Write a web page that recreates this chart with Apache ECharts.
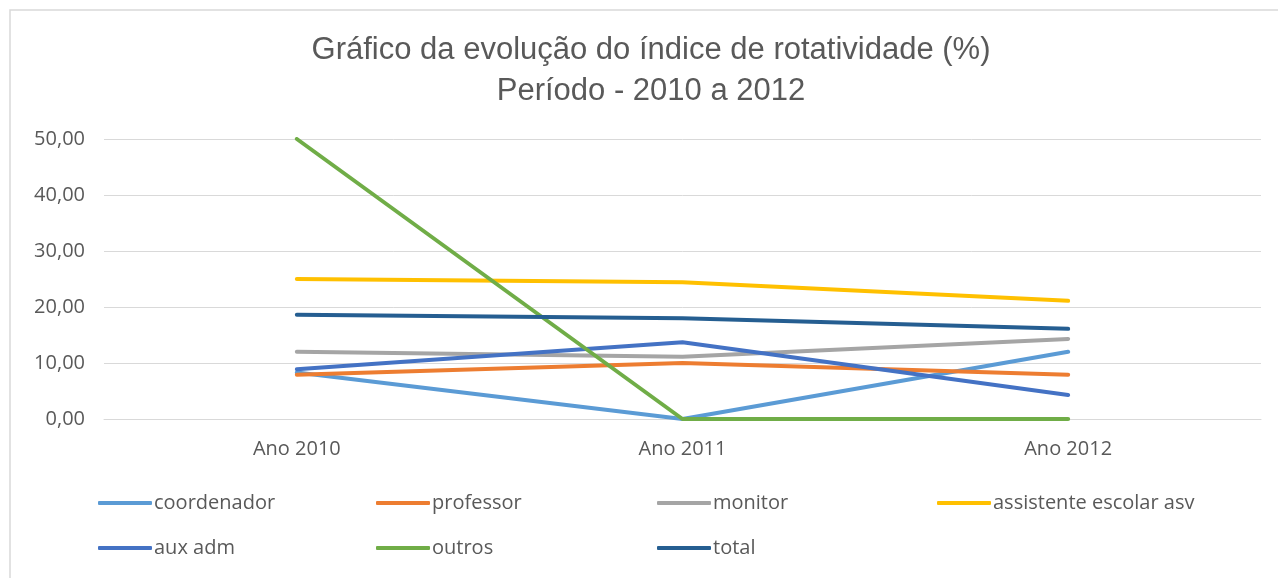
<!DOCTYPE html>
<html>
<head>
<meta charset="utf-8">
<script src="https://cdn.jsdelivr.net/npm/echarts@6/dist/echarts.min.js"></script>
<style>
  html, body { margin: 0; padding: 0; background: #ffffff; }
  #chart { width: 1278px; height: 578px; }
</style>
</head>
<body>
<div id="chart"></div>
<script>
const categories = ['Ano 2010', 'Ano 2011', 'Ano 2012'];
const seriesNames = ['coordenador', 'professor', 'monitor', 'assistente escolar asv', 'aux adm', 'outros', 'total'];
const coordenador = [8.3, 0.0, 12.0];
const professor = [7.9, 10.0, 7.9];
const monitor = [12.0, 11.1, 14.3];
const assistente = [25.0, 24.4, 21.1];
const auxAdm = [8.9, 13.7, 4.3];
const outros = [50.0, 0.0, 0.0];
const total = [18.6, 18.0, 16.1];
const yTicks = [0, 10, 20, 30, 40, 50];
const titleLines = ['Gráfico da evolução do índice de rotatividade (%)', 'Período - 2010 a 2012'];

const values = [coordenador, professor, monitor, assistente, auxAdm, outros, total];
const colors = ['#5B9BD5', '#ED7D31', '#A5A5A5', '#FFC000', '#4472C4', '#70AD47', '#255E91'];
const legendPos = [
  [98, 493], [376, 493], [657, 493], [937, 493],
  [98, 538], [376, 538], [657, 538]
];
const titleTops = [35, 76];

const labelFont = '"Open Sans", "Liberation Sans", sans-serif';

const chart = echarts.init(document.getElementById('chart'), null, { renderer: 'canvas' });

const option = {
  backgroundColor: '#ffffff',
  animation: false,
  title: titleLines.map((t, i) => ({
    text: t,
    left: 651,
    textAlign: 'center',
    top: titleTops[i],
    padding: 0,
    textStyle: {
      fontFamily: '"Liberation Sans", Arial, sans-serif',
      fontSize: 31,
      fontWeight: 'normal',
      color: '#595959'
    }
  })),
  graphic: [{
    type: 'rect',
    shape: { x: 10, y: 10, width: 1300, height: 600 },
    style: { fill: 'none', stroke: '#d9d9d9', lineWidth: 1.5 },
    silent: true,
    z: -10
  }],
  legend: seriesNames.map((name, i) => ({
    data: [name],
    left: legendPos[i][0],
    top: legendPos[i][1],
    padding: 0,
    icon: 'roundRect',
    itemWidth: 54,
    itemHeight: 4,
    textStyle: {
      fontFamily: labelFont,
      fontSize: 20,
      color: '#595959',
      padding: [0, 0, 0, -3]
    }
  })),
  grid: {
    left: 104,
    right: 17,
    top: 139,
    bottom: 159,
    containLabel: false
  },
  xAxis: {
    type: 'category',
    data: categories,
    boundaryGap: true,
    axisTick: { show: false },
    axisLine: { show: true, lineStyle: { color: '#d9d9d9', width: 1 } },
    axisLabel: {
      margin: 20,
      fontFamily: labelFont,
      fontSize: 20,
      color: '#595959'
    }
  },
  yAxis: {
    type: 'value',
    min: yTicks[0],
    max: yTicks[yTicks.length - 1],
    interval: 10,
    axisLine: { show: false },
    axisTick: { show: false },
    splitLine: { show: true, lineStyle: { color: '#d9d9d9', width: 1 } },
    axisLabel: {
      margin: 19,
      fontFamily: labelFont,
      fontSize: 20,
      color: '#595959',
      formatter: v => v.toFixed(2).replace('.', ',')
    }
  },
  series: seriesNames.map((name, i) => ({
    name: name,
    type: 'line',
    data: values[i],
    symbol: 'none',
    showSymbol: false,
    color: colors[i],
    lineStyle: { width: 4, color: colors[i], cap: 'round', join: 'round' },
    z: 2 + i
  }))
};

chart.setOption(option);
</script>
</body>
</html>
